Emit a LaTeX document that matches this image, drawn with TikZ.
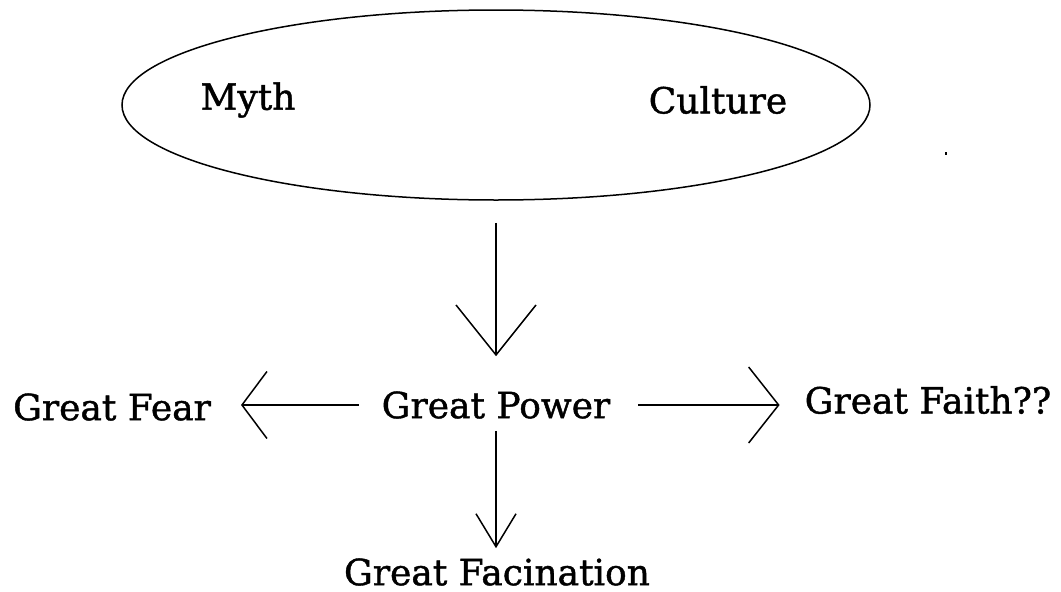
\documentclass[tikz,border=0pt]{standalone}
\usepackage{fontspec}
\setmainfont{DejaVu Serif}
\newfontfamily\lblfont{DejaVu Serif}[FakeBold=1.2]
\usetikzlibrary{arrows.meta,shapes.geometric}
\tikzset{
  lbl/.style={inner sep=0pt, font=\lblfont\fontsize{36}{40}\selectfont},
  conn/.style={line width=1.5pt, line join=miter},
  barb/.style n args={2}{-{Straight Barb[length=#1, width=#2, line width=1.5pt]}},
}
\begin{document}
\begin{tikzpicture}[x=1pt,y=-1pt]
\useasboundingbox (0,0) rectangle (1061,592);
\node[ellipse, draw, line width=1.5pt, minimum width=748pt, minimum height=190pt, inner sep=0pt] (ell) at (496,105) {};
\node[lbl] (myth) at (248,100) {Myth};
\node[lbl] (culture) at (718,100) {Culture};
\node[lbl] (power) at (496,405) {Great Power};
\node[lbl] (fear) at (112,407) {Great Fear};
\node[lbl] (faith) at (928,400) {Great Faith??};
\node[lbl] (fac) at (497,572) {Great Facination};
\fill (945,152) rectangle (947,155);
\draw[conn, barb={50pt}{80pt}, shorten <=22pt, shorten >=35pt] (ell.south) -- (ell.south |- power.north);
\draw[conn, barb={25pt}{67pt}, shorten <=23pt, shorten >=30pt] (power.west) -- (fear.east |- power.west);
\draw[conn, barb={30pt}{76pt}, shorten <=28pt, shorten >=25pt] (power.east) -- (faith.west |- power.east);
\draw[conn, barb={33pt}{40pt}, shorten <=12pt, shorten >=10pt] (power.south) -- (power.south |- fac.north);
\end{tikzpicture}
\end{document}
